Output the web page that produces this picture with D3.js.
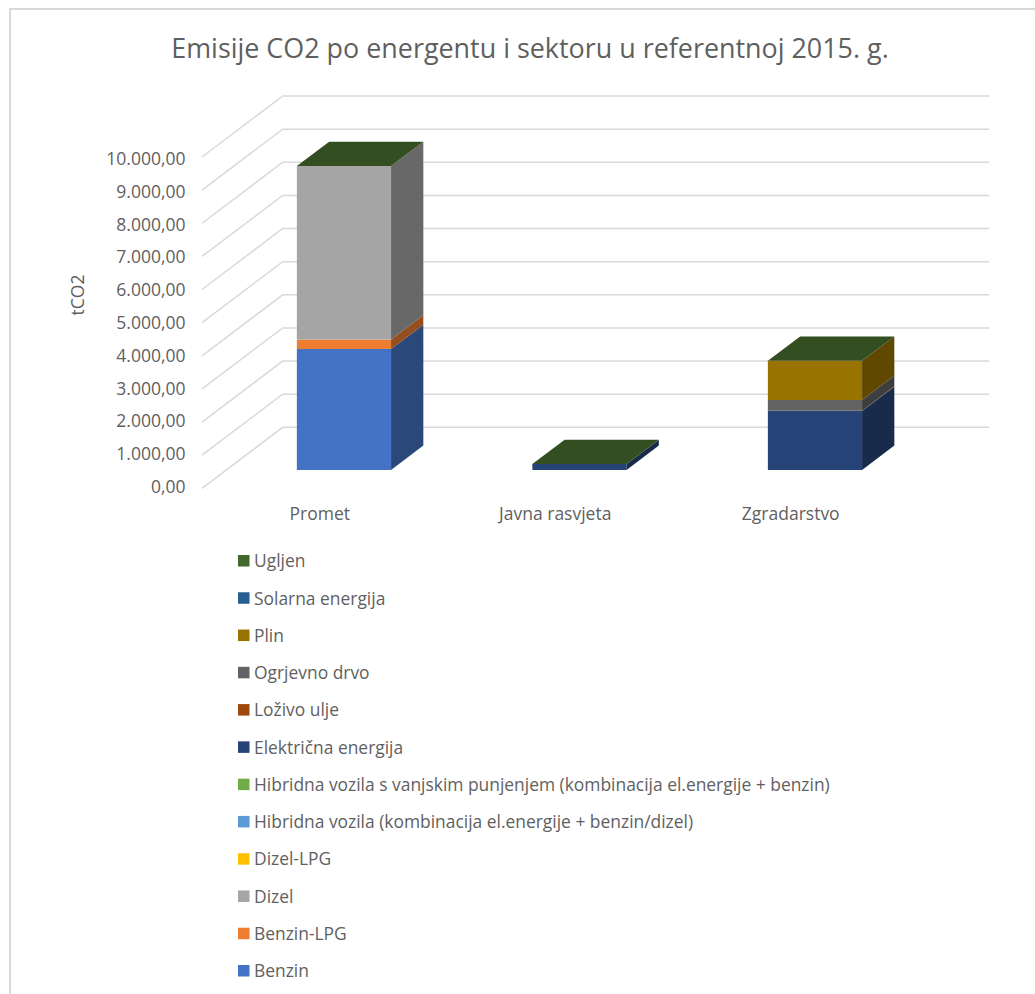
<!DOCTYPE html>
<html><head><meta charset="utf-8">
<script src="https://cdn.jsdelivr.net/npm/d3@7"></script>
<style>html,body{margin:0;padding:0;background:#fff}svg{display:block}text{font-family:"Open Sans",sans-serif;fill:#5f5f5f}</style>
</head><body><svg id="c" width="1035" height="994"></svg>
<script>
const categories = ["Promet","Javna rasvjeta","Zgradarstvo"];
const seriesNames = ["Benzin","Benzin-LPG","Dizel","Dizel-LPG","Hibridna vozila (kombinacija el.energije + benzin/dizel)","Hibridna vozila s vanjskim punjenjem (kombinacija el.energije + benzin)","Električna energija","Loživo ulje","Ogrjevno drvo","Plin","Solarna energija","Ugljen"];
const seriesColors = ["#4472c4","#ed7d31","#a5a5a5","#ffc000","#5b9bd5","#70ad47","#264478","#9e480e","#636363","#997300","#255e91","#43682b"];
const benzin = [3650,0,0];
const benzinLPG = [290,0,0];
const dizel = [5235,0,0];
const dizelLPG = [0,0,0];
const hibrid = [0,0,0];
const hibridPlug = [0,0,0];
const elektricna = [0,180,1780];
const lozivo = [0,0,10];
const ogrjevno = [0,0,325];
const plin = [0,0,1180];
const solarna = [0,0,0];
const ugljen = [0,0,0];
const seriesValues = [benzin,benzinLPG,dizel,dizelLPG,hibrid,hibridPlug,elektricna,lozivo,ogrjevno,plin,solarna,ugljen];
const yTicks = d3.range(0,10001,1000);
const fmt = v => d3.format(",.0f")(v).replace(/,/g,".")+",00";

const svg = d3.select("#c");
// frame
svg.append("path").attr("d","M10,994V9H1035").attr("fill","none").attr("stroke","#d9d9d9").attr("stroke-width",2);

svg.append("text").attr("x",530).attr("y",58).attr("text-anchor","middle").attr("font-size",26.9).text("Emisije CO2 po energentu i sektoru u referentnoj 2015. g.");

// projection scales
const yH = d3.scaleLinear().domain([0,10000]).range([0,331.3]);
const zx = d3.scaleLinear().domain([0,1]).range([0,80.7]);
const zy = d3.scaleLinear().domain([0,1]).range([0,-61]);
const band = d3.scaleBand().domain(categories).range([202,908.5]).paddingInner(0.6).paddingOuter(0.3);
const floorY = 488.3;
const P = (x,v,z)=>[x+zx(z), floorY-yH(v)+zy(z)];
const poly = pts => "M"+pts.map(p=>p.map(n=>n.toFixed(2)).join(",")).join("L")+"Z";
const xEnd = 908.5;

// grid
const grid = svg.append("g").attr("fill","none").attr("stroke","#d9d9d9").attr("stroke-width",1.5);
yTicks.forEach(t=>{
  const a=P(202,t,0),b=P(202,t,1),c=P(xEnd,t,1);
  grid.append("path").attr("d",d3.line()([a,b,c]));
});

// y labels
const yLabel = d3.scaleLinear().domain([0,10000]).range([486.8,158.8]);
svg.append("g").selectAll("text").data(yTicks).join("text")
  .attr("x",185.5).attr("y",d=>yLabel(d)).attr("dy","0.35em").attr("text-anchor","end").attr("font-size",17.5).text(fmt);
svg.append("text").attr("transform","translate(84,295) rotate(-90)").attr("text-anchor","middle").attr("font-size",17.5).text("tCO2");

// bars
const z0=0.3,z1=0.7;
const stack = d3.stack().keys(d3.range(seriesNames.length)).value((row,k)=>row[k])(categories.map((c,i)=>seriesValues.map(s=>s[i])));
const gb = svg.append("g");
categories.forEach((cat,i)=>{
  const x0=band(cat),x1=x0+band.bandwidth();
  stack.forEach((layer,k)=>{
    const [v0,v1]=layer[i];
    if(v1<=v0) return;
    const col=seriesColors[k];
    gb.append("path").attr("d",poly([P(x0,v0,z0),P(x1,v0,z0),P(x1,v1,z0),P(x0,v1,z0)])).attr("fill",col);
    gb.append("path").attr("d",poly([P(x1,v0,z0),P(x1,v0,z1),P(x1,v1,z1),P(x1,v1,z0)])).attr("fill",d3.color(col).darker(1.3));
  });
  const top=stack[stack.length-1][i][1];
  gb.append("path").attr("d",poly([P(x0,top,z0),P(x1,top,z0),P(x1,top,z1),P(x0,top,z1)])).attr("fill",d3.color(seriesColors[11]).darker(0.77));
  svg.append("text").attr("x",x0+band.bandwidth()/2).attr("y",520).attr("text-anchor","middle").attr("font-size",17.5).text(cat);
});

// legend
const ly = d3.scalePoint().domain(d3.range(12)).range([970.7,560.7]);
const lg = svg.append("g");
seriesNames.forEach((n,k)=>{
  lg.append("rect").attr("x",238).attr("y",ly(k)-5.7).attr("width",11.5).attr("height",11.5).attr("fill",seriesColors[k]);
  lg.append("text").attr("x",254).attr("y",ly(k)+0.5).attr("dy","0.35em").attr("font-size",17.42).text(n);
});
</script></body></html>
